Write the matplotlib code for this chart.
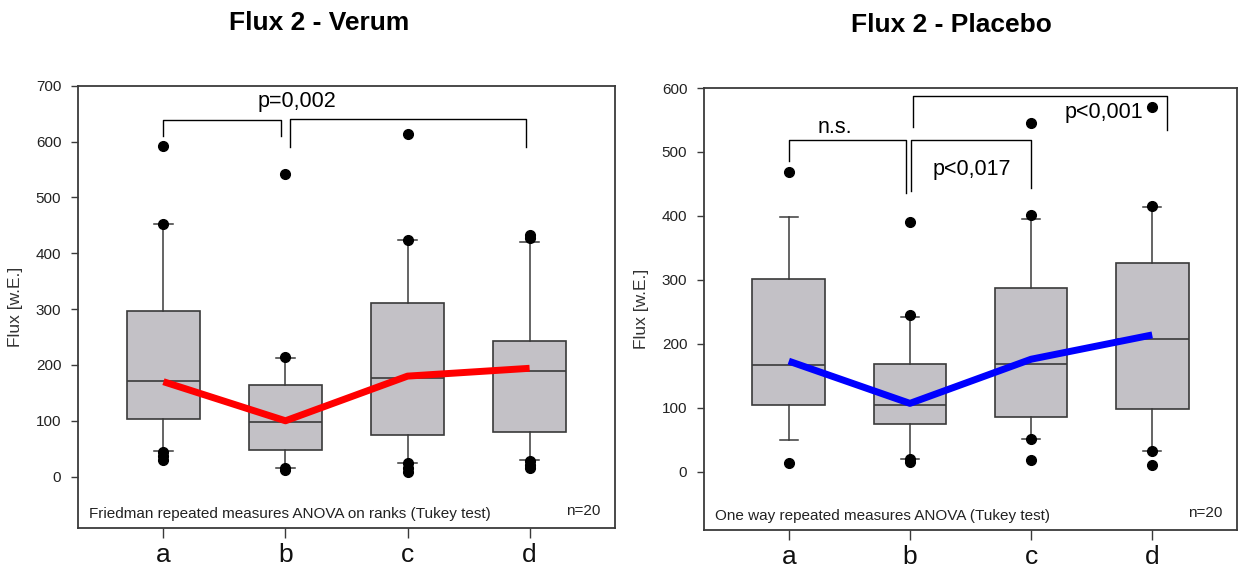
import matplotlib
matplotlib.use('Agg')
import matplotlib.pyplot as plt

# --- data -------------------------------------------------------------------
groups = ['a', 'b', 'c', 'd']

verum_q1 = [104, 48, 75, 80]
verum_median = [172, 97, 176, 190]
verum_q3 = [297, 164, 311, 242]
verum_whislo = [46, 15, 25, 30]
verum_whishi = [452, 213, 423, 421]
verum_outliers = [[592, 453, 45, 37, 30], [542, 215, 16, 12],
                  [614, 424, 24, 15, 8], [432, 427, 28, 21, 15]]
verum_trend = [170, 100, 180, 194]

placebo_q1 = [104, 74, 86, 98]
placebo_median = [167, 105, 169, 207]
placebo_q3 = [301, 169, 288, 327]
placebo_whislo = [49, 20, 51, 33]
placebo_whishi = [398, 242, 396, 414]
placebo_outliers = [[468, 13], [390, 245, 20, 16],
                    [545, 402, 52, 18], [570, 416, 32, 10]]
placebo_trend = [173, 107, 176, 214]

# significance brackets: (x_left, x_right, top, left_drop, right_drop)
verum_brackets = [(1.0, 1.963, 638, 610, 610), (2.037, 3.97, 640, 591, 591)]
verum_labels = [('p=0,002', 2.09, 671)]
placebo_brackets = [(1.0, 1.967, 519, 486, 436), (2.008, 3.0, 519, 439, 443),
                    (2.025, 4.12, 587, 539, 535)]
placebo_labels = [('n.s.', 1.38, 538), ('p<0,017', 2.51, 473), ('p<0,001', 3.6, 561)]

FONT = ['Liberation Sans', 'DejaVu Sans']
BOX_FILL = '#c3c1c6'
EDGE = '#3a3a3a'


def draw_panel(ax, q1, med, q3, lo, hi, fliers, trend, color, ylim, yticks,
               brackets, labels, method):
    stats = [
        {'q1': a, 'med': m, 'q3': b, 'whislo': w0, 'whishi': w1, 'fliers': f}
        for a, m, b, w0, w1, f in zip(q1, med, q3, lo, hi, fliers)
    ]
    pos = list(range(1, len(groups) + 1))
    ax.bxp(stats, positions=pos, widths=0.6, patch_artist=True, capwidths=0.15,
           boxprops=dict(facecolor=BOX_FILL, edgecolor=EDGE, linewidth=1.2),
           medianprops=dict(color=EDGE, linewidth=1.2),
           whiskerprops=dict(color=EDGE, linewidth=1.1),
           capprops=dict(color=EDGE, linewidth=1.1),
           flierprops=dict(marker='o', markerfacecolor='black', markeredgecolor='black',
                           markersize=7))
    ax.plot(pos, trend, color=color, linewidth=5, solid_capstyle='butt', zorder=5)

    for x0, x1, top, d0, d1 in brackets:
        ax.plot([x0, x0, x1, x1], [d0, top, top, d1], color='black', linewidth=1, zorder=4)
    for txt, x, y in labels:
        ax.text(x, y, txt, ha='center', va='center', fontsize=15.5, family=FONT, color='black')

    ax.set_xlim(0.3, 4.7)
    ax.set_ylim(*ylim)
    ax.set_yticks(yticks)
    ax.set_xticks(pos)
    ax.set_xticklabels(groups, fontsize=19, family=FONT)
    for lab in ax.get_yticklabels():
        lab.set_family(FONT)
        lab.set_fontsize(11)
    ax.tick_params(axis='y', length=5, width=1, pad=7, colors=EDGE, labelcolor='#222222')
    ax.tick_params(axis='x', length=7, width=1, pad=4, colors=EDGE, labelcolor='#111111')
    for sp in ax.spines.values():
        sp.set_color(EDGE)
        sp.set_linewidth(1.3)

    ax.set_ylabel('Flux [w.E.]', fontsize=12.5, family=FONT, color='#333333', labelpad=9)
    ax.text(0.021, 0.032, method, transform=ax.transAxes, ha='left', va='center',
            fontsize=11, family=FONT, color='#222222')
    ax.text(0.972, 0.038, 'n=20', transform=ax.transAxes, ha='right', va='center',
            fontsize=11, family=FONT, color='#222222')


fig = plt.figure(figsize=(12.44, 5.73), dpi=100)
ax1 = fig.add_axes([0.0627, 0.0785, 0.4317, 0.7719])
ax2 = fig.add_axes([0.5659, 0.0750, 0.4285, 0.7714])

draw_panel(ax1, verum_q1, verum_median, verum_q3, verum_whislo, verum_whishi,
           verum_outliers, verum_trend, '#ff0000', (-92, 700), range(0, 701, 100),
           verum_brackets, verum_labels,
           'Friedman repeated measures ANOVA on ranks (Tukey test)')
draw_panel(ax2, placebo_q1, placebo_median, placebo_q3, placebo_whislo, placebo_whishi,
           placebo_outliers, placebo_trend, '#0000ff', (-91, 600), range(0, 601, 100),
           placebo_brackets, placebo_labels,
           'One way repeated measures ANOVA (Tukey test)')

# titles sit a bit off the axes centres in the reference
fig.text(319 / 1244, 1 - 23 / 573, 'Flux 2 - Verum', ha='center', va='center',
         fontsize=19, fontweight='bold', family=FONT)
fig.text(951 / 1244, 1 - 25 / 573, 'Flux 2 - Placebo', ha='center', va='center',
         fontsize=19, fontweight='bold', family=FONT)

fig.savefig('out.png', dpi=100)
